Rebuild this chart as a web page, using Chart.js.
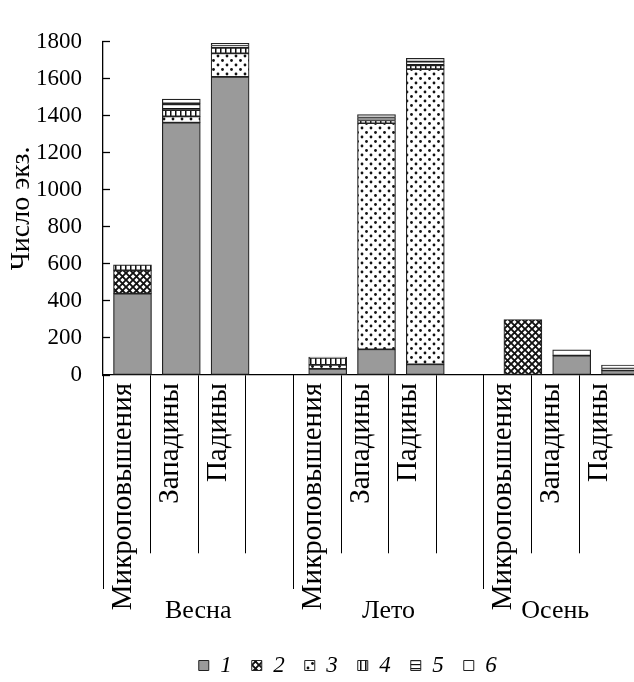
<!DOCTYPE html>
<html>
<head>
<meta charset="utf-8">
<script src="https://cdn.jsdelivr.net/npm/chart.js@4/dist/chart.umd.min.js"></script>
<style>
  html, body { margin: 0; padding: 0; background: #fff; }
  #c { display: block; }
</style>
</head>
<body>
<canvas id="c" width="634" height="682" style="width:634px;height:682px"></canvas>
<script>
// Seasons and habitat types along the horizontal axis
const seasons = ['Весна', 'Лето', 'Осень'];
const habitats = ['Микроповышения', 'Западины', 'Падины'];
const seriesLabels = ['1', '2', '3', '4', '5', '6'];

// Number of specimens, season by season, habitat by habitat
const group1 = [440, 1363, 1610, 33, 139, 58, 0, 105, 25];
const group2 = [125, 0, 0, 0, 0, 0, 300, 0, 0];
const group3 = [0, 34, 128, 22, 1221, 1595, 0, 0, 0];
const group4 = [30, 34, 29, 37, 15, 20, 0, 0, 0];
const group5 = [0, 37, 13, 5, 16, 20, 0, 0, 10];
const group6 = [0, 22, 12, 0, 16, 18, 0, 31, 19];

const yTickValues = [0, 200, 400, 600, 800, 1000, 1200, 1400, 1600, 1800];

const seriesValues = [group1, group2, group3, group4, group5, group6];

// Slots on the axis: three habitats per season with an empty slot between seasons
const slotLabels = [];
const barSlot = [];
const seasonSpans = [];
seasons.forEach((season, g) => {
  const start = slotLabels.length;
  habitats.forEach(h => { barSlot.push(slotLabels.length); slotLabels.push(h); });
  if (g < seasons.length - 1) slotLabels.push('');
  seasonSpans.push({ name: season, start, end: slotLabels.length });
});

// Ticks of the season axis: long separators at season starts, names in the middle
const seasonTicks = [];
seasonSpans.forEach(s => {
  seasonTicks.push({ value: s.start, label: '', line: true });
  seasonTicks.push({ value: (s.start + s.end) / 2, label: s.name, line: false });
});

const canvas = document.getElementById('c');
const ctx = canvas.getContext('2d');

function tile(w, h, draw) {
  const t = document.createElement('canvas');
  t.width = w; t.height = h;
  const g = t.getContext('2d');
  g.fillStyle = '#ffffff';
  g.fillRect(0, 0, w, h);
  g.strokeStyle = '#111';
  g.fillStyle = '#111';
  draw(g, w, h);
  return ctx.createPattern(t, 'repeat');
}

const fills = [
  '#9a9a9a',
  tile(7, 7, (g, w, h) => {
    g.lineWidth = 1.9;
    g.beginPath();
    g.moveTo(-1, -1); g.lineTo(w + 1, h + 1);
    g.moveTo(w + 1, -1); g.lineTo(-1, h + 1);
    g.stroke();
  }),
  tile(9, 9, (g) => {
    g.beginPath(); g.arc(2, 2, 1.4, 0, Math.PI * 2); g.fill();
    g.beginPath(); g.arc(6.5, 6.5, 1.4, 0, Math.PI * 2); g.fill();
  }),
  tile(5, 5, (g, w, h) => { g.fillRect(0, 0, 1.5, h); }),
  tile(4, 4, (g, w) => { g.fillRect(0, 0, w, 1.2); }),
  '#ffffff'
];

const serif = "'Liberation Serif', 'Times New Roman', serif";

new Chart(ctx, {
  type: 'bar',
  data: {
    datasets: seriesValues.map((vals, i) => ({
      label: seriesLabels[i],
      data: vals.map((v, j) => ({ x: barSlot[j], y: v || null })),
      backgroundColor: fills[i],
      borderColor: '#222',
      borderWidth: 1.2,
      borderSkipped: false,
      barThickness: 38,
      clip: false,
      xAxisID: 'xb',
      yAxisID: 'y'
    }))
  },
  options: {
    responsive: false,
    animation: false,
    events: [],
    layout: { padding: { top: 22, right: 0, bottom: -5, left: 0 } },
    plugins: {
      tooltip: { enabled: false },
      legend: {
        position: 'bottom',
        fullSize: false,
        align: 'center',
        labels: {
          boxWidth: 10,
          boxHeight: 10,
          padding: 20,
          color: '#000',
          font: { family: serif, size: 23, style: 'italic' },
          generateLabels: chart => chart.data.datasets.map((d, i) => ({
            text: d.label,
            fillStyle: d.backgroundColor,
            strokeStyle: '#222',
            lineWidth: 1,
            hidden: false,
            datasetIndex: i
          })).concat([{ text: '', fillStyle: 'rgba(0,0,0,0)', strokeStyle: 'rgba(0,0,0,0)', lineWidth: 0, hidden: false }])
        }
      }
    },
    scales: {
      // bar positions
      xb: {
        type: 'linear',
        display: false,
        stacked: true,
        offset: false,
        bounds: 'data',
        min: -0.6045,
        max: 10.277,
        grid: { offset: false }
      },
      // habitat names and short separators, hung from the zero line
      xl: {
        type: 'linear',
        position: { y: 0 },
        offset: false,
        bounds: 'data',
        min: 0,
        max: 11.155,
        afterBuildTicks: s => { s.ticks = slotLabels.map((_, i) => ({ value: i })); },
        ticks: {
          autoSkip: false,
          minRotation: 90,
          maxRotation: 90,
          padding: -170,
          labelOffset: 20,
          color: '#000',
          font: { family: serif, size: 29 },
          callback: (v, i) => slotLabels[i]
        },
        grid: { offset: false, drawOnChartArea: false, tickLength: 178, tickColor: '#000', tickWidth: 1 },
        border: { display: true, color: '#000', width: 1.3 }
      },
      // season names and long separators
      xg: {
        type: 'linear',
        position: 'bottom',
        offset: false,
        bounds: 'data',
        min: 0,
        max: 11.155,
        afterBuildTicks: s => { s.ticks = seasonTicks.map(t => ({ value: t.value })); },
        afterFit: s => { s.height = 259; },
        ticks: {
          autoSkip: false,
          minRotation: 0,
          maxRotation: 0,
          padding: 7,
          color: '#000',
          font: { family: serif, size: 26 },
          callback: (v, i) => seasonTicks[i].label
        },
        grid: {
          offset: false,
          drawOnChartArea: false,
          tickLength: 214,
          tickWidth: 1,
          tickColor: c => (c.tick && seasonTicks[c.index] && seasonTicks[c.index].line) ? '#000' : 'rgba(0,0,0,0)'
        },
        border: { display: false }
      },
      y: {
        type: 'linear',
        position: 'left',
        stacked: true,
        bounds: 'data',
        min: 0,
        max: 1800,
        afterBuildTicks: s => { s.ticks = yTickValues.map(v => ({ value: v })); },
        afterFit: s => { s.width = 103; },
        ticks: {
          padding: 28,
          color: '#000',
          font: { family: serif, size: 23 },
          callback: v => String(v)
        },
        grid: { drawOnChartArea: false, tickLength: -7, tickColor: '#000', tickWidth: 1.3 },
        border: { color: '#000', width: 1.3 },
        title: {
          display: true,
          text: 'Число экз.',
          color: '#000',
          font: { family: serif, size: 28 },
          padding: { top: 5, bottom: 0 }
        }
      }
    }
  }
});
</script>
</body>
</html>
